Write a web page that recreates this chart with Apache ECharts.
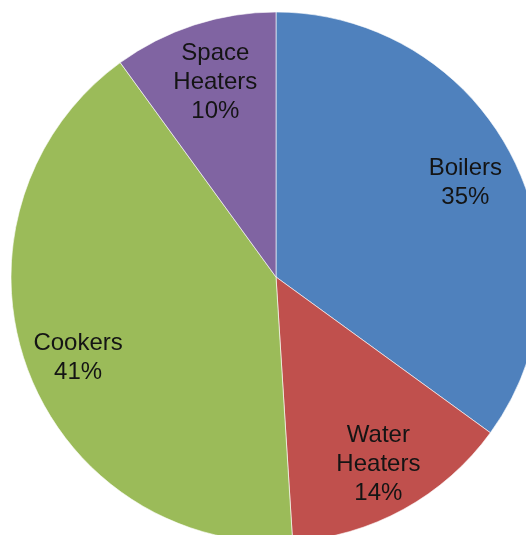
<!DOCTYPE html>
<html>
<head>
<meta charset="utf-8">
<script src="https://cdn.jsdelivr.net/npm/echarts@6/dist/echarts.min.js"></script>
<style>
  html, body { margin: 0; padding: 0; background: #fff; }
  #chart { width: 526px; height: 535px; }
</style>
</head>
<body>
<div id="chart"></div>
<script>
// data
var categories = ['Boilers', 'Water Heaters', 'Cookers', 'Space Heaters'];
var shares = [35, 14, 41, 10];
var sliceColors = ['#4F81BD', '#C0504D', '#9BBB59', '#8064A2'];
// small nudges so labels sit where the original put them
var labelNudge = [[0, 2], [0, 1], [2, 9], [5, 7]];

var pieData = [];
for (var i = 0; i < categories.length; i++) {
    pieData.push({ name: categories[i], value: shares[i], itemStyle: { color: sliceColors[i] } });
}
// same slices, transparent, only used to carry the labels further out
var labelData = categories.map(function (name, i) {
    return { name: name, value: shares[i], label: { offset: labelNudge[i] } };
});

var myChart = echarts.init(document.getElementById('chart'), null, { renderer: 'canvas' });
var option = {
    backgroundColor: '#ffffff',
    animation: false,
    series: [
        {
            type: 'pie',
            center: [276, 277],
            radius: [0, 265],
            startAngle: 90,
            clockwise: true,
            silent: true,
            itemStyle: { borderColor: 'rgba(255,255,255,0.6)', borderWidth: 1 },
            label: { show: false },
            labelLine: { show: false },
            data: pieData
        },
        {
            type: 'pie',
            center: [276, 277],
            radius: [154, 265],
            startAngle: 90,
            clockwise: true,
            silent: true,
            itemStyle: { color: 'rgba(0,0,0,0)', borderWidth: 0 },
            label: {
                show: true,
                position: 'inside',
                fontFamily: 'Liberation Sans, Arial, sans-serif',
                fontSize: 24,
                lineHeight: 29,
                color: '#141414',
                align: 'center',
                formatter: function (p) {
                    return p.name.replace(' ', '\n') + '\n' + p.value + '%';
                }
            },
            labelLine: { show: false },
            data: labelData
        }
    ]
};
myChart.setOption(option);
</script>
</body>
</html>
